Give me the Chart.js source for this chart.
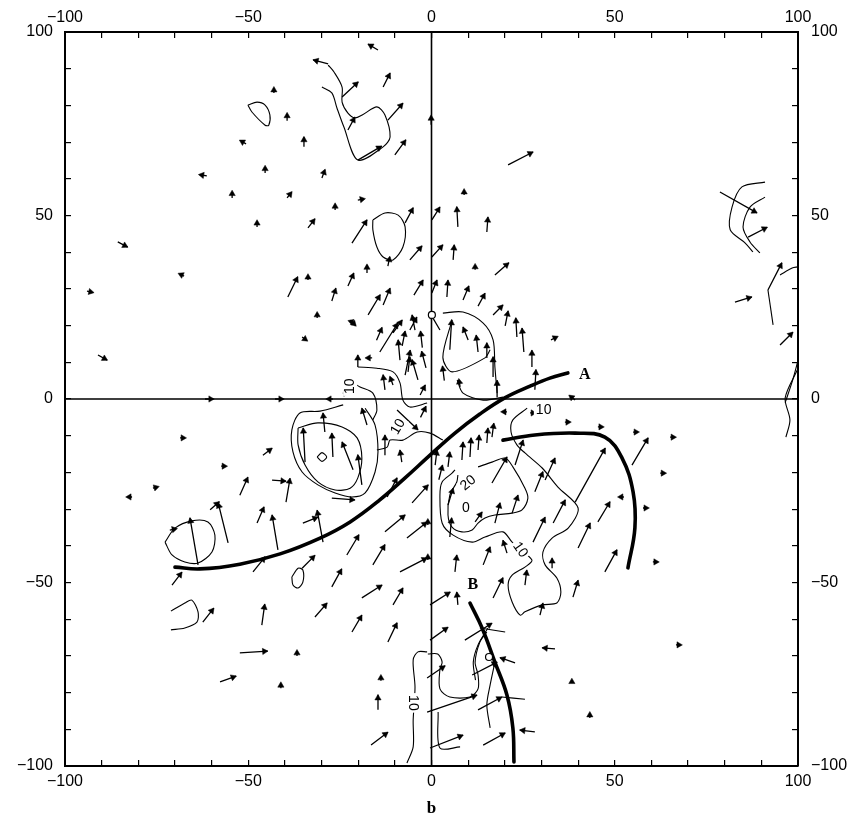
<!DOCTYPE html>
<html>
<head>
<meta charset="utf-8">
<script src="https://cdn.jsdelivr.net/npm/chart.js@4.4.0/dist/chart.umd.min.js"></script>
<style>
html,body{margin:0;padding:0;background:#fff;}
#wrap{width:852px;height:823px;position:relative;}
</style>
</head>
<body>
<div id="wrap"><canvas id="c"></canvas></div>
<script>
// ---------------- data (axis units, -100..100) ----------------
const axisLabelValues = [-100, -50, 0, 50, 100];
const panelLabel = 'b';

// wind vectors: tail position (windX, windY) and components (windU, windV)
const windX = [
 -14.6,-28.2,-24.4,-13.2,-11.9,-22.8,-20.1,-10.0,-43.0,-39.4,
 -50.6,-34.8,-45.4,-29.9,-61.3,-54.4,-39.4,-26.3,-20.1,-47.6,
 -33.7,-21.7,-7.2,-11.9,-5.9,-85.6,-67.5,-94.0,-39.2,-33.7,
 -27.2,-22.8,-17.6,-17.3,-13.2,-4.8,-31.2,-22.2,-35.3,-14.1,
 -10.5,-5.9,-91.0,-20.1,-16.2,-4.5,2.3,-6.4,-10.5,-61.8,
 -42.7,-26.9,-24.2,-20.9,-8.6,-7.2,-3.7,-12.7,-3.1,
 -0.1,20.9,8.9,0.1,7.2,15.1,0.1,5.9,11.9,17.3,
 0.1,4.2,8.6,12.7,16.8,20.1,23.3,25.2,27.4,28.2,
 32.6,39.2,5.0,10.0,15.1,16.8,17.9,7.8,78.7,86.4,
 82.8,91.8,95.1,12.7,
 -68.6,-57.4,-76.0,-81.7,-46.0,-52.3,-43.5,-39.7,-60.4,-55.5,
 -47.6,-41.9,-35.1,-29.6,-71.4,-63.7,-70.8,-48.7,-35.3,-27.2,
 -23.1,-16.0,-12.7,-6.7,-8.6,-19.0,-10.5,-31.8,-21.7,-11.9,
 -62.4,-46.3,-52.3,-36.7,-57.7,-41.1,-13.8,-14.6,-16.5,-5.3,
 -34.5,-26.9,-21.4,-19.0,-29.1,-17.6,-12.7,-8.1,-27.2,-9.4,-12.1,
 4.5,8.3,10.5,12.7,15.1,16.5,26.9,36.4,45.4,55.0,
 65.1,62.4,57.7,60.4,66.7,52.5,20.6,16.5,22.8,31.0,
 28.2,39.2,54.7,45.4,33.2,27.7,40.0,47.3,22.0,17.3,
 11.9,4.5,5.0,14.1,20.6,25.5,32.9,38.6,6.4,16.8,
 29.6,-0.4,7.2,-0.4,9.1,22.8,11.1,12.7,-1.2,-1.2,
 28.2,14.1,-0.4,33.7,43.2,38.3,-1.0,-1.0,1.0,
 -2.5,-8.0,-1.5,3.5,-15.0,-3.0,2.0
];
const windY = [
 95.1,91.3,82.3,85.0,76.0,73.3,65.1,66.5,83.4,75.8,
 69.5,68.7,61.6,60.2,60.8,54.8,54.8,51.5,54.2,46.9,
 46.6,42.5,48.0,36.2,37.9,42.8,33.5,29.4,27.8,32.4,
 26.7,30.8,34.3,22.9,25.6,28.3,22.1,21.5,16.9,12.8,
 18.0,18.8,12.0,8.7,11.2,18.8,18.8,7.4,3.8,0,
 0,0,1.6,20.7,10.6,6.5,5.2,2.5,1.1,
 74.7,63.8,55.6,48.8,46.9,45.5,38.7,37.9,35.2,33.8,
 28.9,27.8,27.0,25.3,22.9,19.9,16.9,12.8,8.7,2.5,
 16.1,-0.3,13.4,16.1,11.2,6.0,0.5,3.3,56.4,44.1,
 26.4,29.7,14.7,12.8,
 -10.6,-18.3,-24.3,-26.7,-15.3,-26.2,-22.1,-28.1,-30.2,-39.2,
 -33.8,-41.1,-33.8,-39.0,-35.7,-45.2,-50.7,-47.1,-46.1,-51.2,
 -42.5,-45.2,-36.2,-37.9,-47.1,-54.2,-56.1,-59.4,-63.5,-66.2,
 -60.8,-61.6,-69.2,-70.0,-77.1,-78.8,-76.8,-84.7,-94.3,-28.3,
 -17.2,-15.8,-19.3,-23.4,-9.0,-7.1,-15.3,-17.2,-27.0,-3.0,-26.7,
 -18.5,-16.6,-15.8,-13.9,-12.0,-10.4,-3.8,-6.3,-7.6,-9.0,
 -10.4,-20.2,-29.7,-44.4,-67.0,-26.7,-3.5,-22.9,-18.0,-22.1,
 -25.3,-28.1,-18.0,-33.5,-33.8,-39.0,-40.6,-47.1,-31.1,-33.8,
 -33.5,-28.9,-37.6,-45.2,-42.0,-50.7,-46.1,-54.0,-47.1,-54.2,
 -58.9,-56.1,-56.1,-65.7,-65.7,-71.9,-75.2,-84.7,-76.0,-85.3,
 -90.7,-94.3,-95.1,-68.1,-86.9,-77.4,-34.3,-43.9,-18.0,
 14.0,14.5,8.5,5.0,16.0,-5.0,-22.0
];
const windU = [
 -2.7,-4.1,4.4,1.9,4.1,1.9,6.5,3.0,0,0,
 -1.4,0,0,0.8,-1.9,0,1.1,0,1.6,0,
 1.9,4.1,2.2,0.5,3.3,2.7,-1.1,1.4,2.7,0,
 1.1,1.6,0,3.3,1.9,2.5,0,1.4,1.1,4.9,
 2.5,1.9,2.5,0,-1.4,-0.8,-2.7,0.5,-0.8,2.2,
 2.2,-1.4,1.1,-1.4,-0.5,1.4,-1.6,-0.5,1.4,
 0,6.8,0,2.2,-0.3,0.3,3.0,0.3,0,3.8,
 1.4,0.3,1.6,1.9,2.7,0.8,-0.3,-0.5,0,0.3,
 1.6,-1.4,0.5,-1.4,0,0,0,-0.3,10.1,5.2,
 4.6,3.8,3.5,-0.5,
 1.1,1.1,1.1,-1.1,2.5,2.2,3.8,1.1,2.5,-2.7,
 1.9,-1.6,4.1,-1.6,1.6,-2.2,2.7,3.3,3.5,2.7,
 3.3,3.3,5.5,5.5,7.4,5.5,2.7,3.3,2.7,2.5,
 3.0,0.8,7.6,0,4.4,0,0,0,4.6,4.4,
 -0.5,-0.3,-3.0,-1.1,-0.5,-1.4,0,-0.5,6.3,5.7,2.7,
 0.5,0.3,0.3,0.3,0.3,0.5,1.1,1.1,1.1,1.1,
 1.1,1.1,1.1,1.1,1.1,-1.1,-1.1,4.1,2.2,2.7,
 2.2,8.2,4.4,3.3,3.3,3.3,3.3,3.3,1.6,1.4,
 1.9,1.4,0.5,1.9,-1.1,0.5,0,1.4,0.5,2.7,
 0.8,5.5,-0.3,4.9,7.4,-4.1,6.8,6.5,4.9,13.6,
 -4.1,6.0,9.0,-3.5,0,0,0,0,0.5,
 -0.5,0.8,-1.2,-0.5,1.5,1.5,1.0
];
const windV = [
 1.6,1.1,4.1,3.8,4.6,3.5,3.8,4.1,1.1,1.9,
 0.8,2.7,1.6,2.2,0.3,1.6,1.4,1.4,0.3,1.4,
 2.5,6.3,4.1,2.5,3.8,-1.4,0.5,-0.3,5.5,1.1,
 3.5,3.5,2.2,5.5,4.6,4.1,1.1,-1.4,-0.8,7.9,
 3.5,3.5,-1.4,3.3,0,4.1,4.6,4.1,2.2,0,
 0,0,0,0.5,5.5,6.8,5.5,4.1,2.7,
 2.5,3.5,1.1,3.5,5.5,4.1,3.3,4.1,1.1,3.3,
 3.5,4.6,3.8,3.5,2.7,4.1,5.2,6.5,4.6,5.5,
 0.8,1.1,8.2,3.5,4.1,5.5,4.6,1.9,-5.7,2.7,
 1.4,7.4,3.5,4.6,
 0,0,0.3,0,1.9,4.9,-0.3,6.5,2.2,10.9,
 4.4,9.5,1.6,8.7,0.3,12.8,3.5,4.1,3.5,4.9,
 5.5,5.5,4.6,4.4,3.8,3.5,4.6,3.8,4.6,5.2,
 3.8,5.7,0.5,1.1,1.6,1.1,1.1,4.1,3.5,4.9,
 9.3,6.5,7.6,8.2,5.2,4.6,5.5,3.3,-0.5,-5.4,5.2,
 4.1,4.9,5.2,4.1,4.1,3.8,0,0,0,0,
 0,0,0,0,0,0,0,7.1,6.8,6.0,
 5.5,14.7,7.4,5.5,6.3,6.8,6.8,6.0,4.9,5.5,
 2.7,4.6,5.2,4.9,3.5,4.1,2.7,4.6,4.6,5.5,
 3.3,3.5,3.5,3.5,4.6,1.4,3.5,3.5,3.3,4.6,
 0.5,3.3,3.5,0.3,1.1,0.5,1.1,1.1,4.1,
 4.5,4.0,4.5,4.0,3.5,3.0,4.0
];

// thin contour lines (x, y pairs)
const contourNW = [[-50.1,80.1],[-47.6,80.9],[-45.4,80.1],[-44.1,77.4],[-44.4,74.6],[-45.4,74.6],[-49.0,78.2],[-50.1,80.1]];
const contourNorthBox = [[-29.9,85.0],[-27.2,83.4],[-25.8,79.3],[-23.9,74.1],[-20.1,65.1],[-13.2,68.7],[-11.3,71.4],[-12.7,77.4],[-14.9,79.6],[-18.9,77.4],[-20.9,76.6],[-22.8,77.9],[-24.4,80.9],[-24.4,85.0],[-26.6,89.1],[-28.2,91.0]];
const contourNorthLoop = [[-16.0,48.8],[-12.7,50.7],[-9.1,50.1],[-7.2,46.9],[-7.8,41.4],[-10.5,37.9],[-13.2,38.7],[-14.9,41.4],[-16.0,46.1],[-16.0,48.8]];
const contourEastOuter = [[91.0,59.1],[84.7,57.8],[82.0,52.3],[81.5,46.1],[85.6,42.5],[87.7,40.1]];
const contourEastInner = [[91.0,55.0],[86.9,52.3],[85.0,46.9],[86.9,42.8],[89.6,39.8]];
const contourEastUpper = [[95.1,33.8],[98.4,35.7],[100,36.0]];
const contourEastStem = [[91.8,29.7],[93.2,20.2]];
const contourEastEdge = [[99.8,7.9],[96.5,0.3],[97.8,-5.7],[96.7,-10.4]];
const contourEastEdge2 = [[96.5,-1.0],[98.5,5.0],[100,10.5]];
const contourCentreN = [[3.1,23.4],[8.6,23.7],[14.1,20.7],[16.8,16.1],[17.3,8.7],[17.9,1.6]];
const contourCentreBox = [[5.6,21.5],[3.1,11.4],[5.6,7.4],[14.6,11.2],[16.0,13.4]];
const contourCentreArc = [[7.0,5.2],[8.6,1.6],[14.1,-0.3],[19.5,0.5]];
const contourCentreW = [[-20.1,8.7],[-14.9,8.4],[-10.5,7.4],[-8.6,4.4],[-7.8,-0.3],[-5.9,-2.2],[-1.2,-1.1]];
const contourCentreW2 = [[-21.4,4.4],[-19.5,3.3],[-16.0,1.6],[-14.9,-3.0],[-16.0,-5.7]];
const contourCentreS = [[-14.9,-13.9],[-12.1,-13.1],[-11.3,-11.2],[-7.8,-11.2],[-3.9,-9.0],[-0.4,-9.3],[3.1,-11.2]];
const contourLowOuter = [[-24.1,-1.6],[-30.4,-3.3],[-35.9,-3.8],[-38.1,-8.4],[-37.8,-14.4],[-35.3,-19.9],[-31.0,-23.4],[-26.3,-25.6],[-21.7,-26.7],[-18.1,-25.6],[-15.4,-19.9],[-14.6,-14.4],[-15.4,-7.1],[-18.1,-2.5]];
const contourLowInner = [[-36.4,-7.9],[-31.0,-6.5],[-24.4,-7.6],[-20.3,-10.6],[-19.0,-16.1],[-20.1,-21.5],[-22.2,-24.3],[-26.3,-24.8],[-31.0,-22.6],[-34.5,-18.0],[-36.4,-12.5],[-36.4,-7.9]];
const contourLowCore = [[-31.2,-15.8],[-29.9,-14.6],[-28.6,-15.8],[-29.9,-17.0],[-31.2,-15.8]];
const contourSWLoop = [[-72.7,-39.0],[-70.0,-35.2],[-65.4,-33.2],[-61.0,-33.5],[-59.1,-37.1],[-59.9,-41.7],[-63.7,-44.7],[-67.3,-44.4],[-70.8,-42.5],[-72.7,-39.0]];
const contourSWArc = [[-71.1,-57.8],[-67.3,-55.6],[-65.4,-54.8],[-63.7,-58.0],[-64.0,-60.8],[-67.3,-62.4],[-71.1,-62.9]];
const contourSWSmall = [[-38.1,-48.5],[-36.4,-46.1],[-35.1,-46.6],[-35.1,-49.9],[-36.4,-51.5],[-37.8,-50.7],[-38.1,-48.5]];
const contourSEOuter = [[26.1,-2.5],[22.2,-5.7],[21.7,-9.0],[23.3,-12.5],[25.5,-14.7],[30.2,-18.8],[34.5,-24.0],[40.0,-29.7],[37.3,-35.2],[32.9,-37.9],[30.4,-41.7],[31.0,-45.2],[34.2,-48.8],[35.3,-52.6],[34.2,-55.6],[30.2,-56.1],[25.5,-58.0],[24.2,-58.9],[22.0,-55.3],[20.9,-50.7],[22.0,-48.0],[25.5,-45.8],[27.4,-43.9],[22.0,-39.0],[19.5,-36.2],[14.6,-37.6],[11.1,-39.0],[5.9,-37.1],[2.9,-33.8],[2.3,-26.2],[2.9,-22.6],[5.6,-20.2],[6.4,-19.3]];
const contourSEInner = [[12.7,-18.5],[16.5,-17.2],[20.1,-16.1],[22.2,-18.5],[25.5,-24.3],[26.3,-27.0],[24.7,-30.2],[22.0,-31.1],[17.3,-31.6],[14.6,-32.4],[12.7,-33.8],[11.1,-35.7],[8.3,-36.2],[5.6,-34.9],[4.5,-31.6],[5.0,-26.2],[6.9,-22.6],[7.2,-20.7]];
const contourSouthA = [[-1.0,-69.5],[1.7,-69.5],[2.9,-71.7],[2.3,-73.6],[2.3,-79.0],[5.0,-81.2],[10.5,-81.2],[12.7,-79.0],[12.7,-75.2],[11.9,-71.7],[13.2,-66.2],[15.1,-63.5]];
const contourSouthB = [[-1.2,-68.9],[-3.7,-68.9],[-5.0,-71.1],[-4.5,-78.5],[-5.0,-87.5],[-5.0,-94.8],[-6.7,-99.2]];
const contourSouthC = [[15.4,-62.4],[12.7,-67.0],[11.4,-71.7],[12.0,-76.6]];
const contourSouthD = [[17.3,-71.7],[16.0,-77.9],[15.1,-83.4],[16.0,-89.6]];
const contourSouthE = [[1.8,-85.3],[2.3,-95.1],[7.8,-94.8]];
const contourSouthF = [[13.2,-62.4],[20.1,-63.5]];
const contourSouthG = [[19.2,-81.2],[25.5,-81.8]];

// thick analysed lines
const frontA = [[-70,-45.8],[-63.2,-46.3],[-52.3,-45],[-41.3,-42.2],[-30.4,-37.9],[-22.2,-33.5],[-14.1,-27.5],[-7.2,-21.5],[-0.4,-15.3],[6.4,-9.3],[13.2,-4.1],[20,0.3],[26.9,3.5],[32.3,5.7],[37.2,7.1]];
const frontArc = [[19.5,-11.2],[28.2,-9.8],[39.2,-9.3],[47.3,-10.4],[52,-16.1],[55,-25.3],[55.5,-35.1],[53.6,-46]];
const frontB = [[10.5,-55.6],[13.8,-62.4],[17.3,-71.7],[20.6,-80.7],[22.2,-89.6],[22.5,-98.9]];

// small open circles
const stationX = [15.7, 0.1];
const stationY = [-70.3, 22.9];

// text annotations
const labelText  = ['A', 'B', '10', '10', '10', '10', '10', '20', '0'];
const labelX     = [41.8, 11.3, 30.6, 24.2, -5.0, -22.2, -9.1, 10.0, 9.4];
const labelY     = [6.5, -50.7, -3.0, -41.1, -82.8, 3.5, -7.6, -22.9, -29.7];
const labelAngle = [0, 0, 0, 55, 90, -90, -60, -40, 0];

// ---------------- build datasets ----------------
const toPts = arr => arr.map(p => ({x: p[0], y: p[1]}));
const n = Math.min(windX.length, windY.length, windU.length, windV.length);
const shaftPts = [], headPts = [], headRot = [];
for (let i = 0; i < n; i++) {
  const x0 = windX[i], y0 = windY[i], u = windU[i], v = windV[i];
  shaftPts.push({x: x0, y: y0}, {x: x0 + u, y: y0 + v}, {x: x0, y: null});
  const len = Math.hypot(u, v) || 1;
  const back = Math.min(0.9, len * 0.3);
  headPts.push({x: x0 + u - back * u / len, y: y0 + v - back * v / len});
  headRot.push(Math.atan2(u, v) * 180 / Math.PI);
}

const contours = [contourNW, contourNorthBox, contourNorthLoop, contourEastOuter, contourEastInner,
  contourEastUpper, contourEastStem, contourEastEdge, contourEastEdge2, contourCentreN, contourCentreBox,
  contourCentreArc, contourCentreW, contourCentreW2, contourCentreS, contourLowOuter, contourLowInner,
  contourLowCore, contourSWLoop, contourSWArc, contourSWSmall, contourSEOuter, contourSEInner,
  contourSouthA, contourSouthB, contourSouthC, contourSouthD, contourSouthE, contourSouthF, contourSouthG];

const datasets = [];
datasets.push({
  label: 'stations', data: stationX.map((x, i) => ({x, y: stationY[i]})),
  pointStyle: 'circle', pointRadius: 3.5, pointBackgroundColor: '#fff', pointBorderColor: '#000',
  pointBorderWidth: 1.2, showLine: false, order: 0
});
datasets.push({
  label: 'heads', data: headPts, pointStyle: 'triangle', pointRadius: 3.6, rotation: headRot,
  pointBackgroundColor: '#000', pointBorderColor: '#000', pointBorderWidth: 0.5, showLine: false, order: 1
});
datasets.push({
  label: 'shafts', data: shaftPts, showLine: true, spanGaps: false, borderColor: '#000',
  borderWidth: 1.3, pointRadius: 0, order: 2
});
[frontA, frontArc, frontB].forEach((f, k) => datasets.push({
  label: 'front' + k, data: toPts(f), showLine: true, borderColor: '#000', borderWidth: 3.6,
  pointRadius: 0, tension: 0.4, borderCapStyle: 'round', order: 3
}));
contours.forEach((c, k) => datasets.push({
  label: 'contour' + k, data: toPts(c), showLine: true, borderColor: '#000', borderWidth: 1.1,
  pointRadius: 0, tension: 0.3, order: 4
}));
datasets.push({
  label: 'zero', data: [{x: -100, y: 0}, {x: 100, y: 0}, {x: 0, y: null}, {x: 0, y: -100}, {x: 0, y: 100}],
  showLine: true, spanGaps: false, borderColor: '#000', borderWidth: 1.6, pointRadius: 0, order: 5
});

// ---------------- axes ----------------
function fmt(v) {
  const r = Math.round(v);
  if (Math.abs(v - r) > 1e-6 || !axisLabelValues.includes(r)) return '';
  return r < 0 ? '\u2212' + Math.abs(r) : String(r);
}
function axisCfg(pos, size, pad) {
  return {
    type: 'linear', position: pos, min: -100, max: 100,
    ticks: { stepSize: 10, autoSkip: false, maxRotation: 0, minRotation: 0, padding: pad,
      color: '#000', font: { family: 'Liberation Sans', size: 16 }, callback: fmt },
    grid: { drawOnChartArea: false, drawTicks: true, tickLength: -6, color: '#000', lineWidth: 1.2 },
    border: { display: true, color: '#000', width: 2 },
    afterFit: s => { if (s.isHorizontal()) s.height = size; else s.width = size; }
  };
}
const xAxis = axisCfg('bottom', 57, 12);
xAxis.title = { display: true, text: panelLabel, color: '#000',
  font: { family: 'Liberation Serif', size: 17, weight: 'bold' }, padding: { top: 0, bottom: 4 } };

const bgPlugin = {
  id: 'bg',
  beforeDraw(chart) { const c = chart.ctx; c.save(); c.fillStyle = '#fff'; c.fillRect(0, 0, chart.width, chart.height); c.restore(); }
};
const labelPlugin = {
  id: 'annot',
  afterDatasetsDraw(chart) {
    const ctx = chart.ctx, xs = chart.scales.x, ys = chart.scales.y;
    for (let i = 0; i < labelText.length; i++) {
      const t = labelText[i];
      const isLetter = /[A-Z]/.test(t);
      ctx.save();
      ctx.translate(xs.getPixelForValue(labelX[i]), ys.getPixelForValue(labelY[i]));
      ctx.rotate(labelAngle[i] * Math.PI / 180);
      ctx.font = isLetter ? 'bold 16px "Liberation Serif"' : '14px "Liberation Sans"';
      ctx.textAlign = 'center'; ctx.textBaseline = 'middle';
      if (!isLetter) {
        const w = ctx.measureText(t).width;
        ctx.fillStyle = '#fff'; ctx.fillRect(-w / 2 - 2, -7, w + 4, 14);
      }
      ctx.fillStyle = '#000'; ctx.fillText(t, 0, 0);
      ctx.restore();
    }
  }
};

new Chart(document.getElementById('c'), {
  type: 'scatter',
  data: { datasets },
  options: {
    responsive: true, maintainAspectRatio: false, animation: false,
    layout: { padding: 0 },
    plugins: { legend: { display: false }, tooltip: { enabled: false } },
    scales: {
      x: xAxis,
      x2: axisCfg('top', 32, 11),
      y: axisCfg('left', 65, 18),
      y2: axisCfg('right', 54, 19)
    }
  },
  plugins: [bgPlugin, labelPlugin]
});
</script>
</body>
</html>
